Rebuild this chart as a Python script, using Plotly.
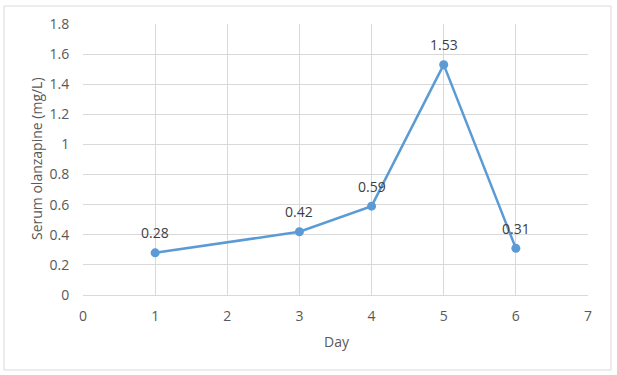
import plotly.graph_objects as go

days = [1, 3, 4, 5, 6]
serum = [0.28, 0.42, 0.59, 1.53, 0.31]
labels = ["0.28", "0.42", "0.59", "1.53", "0.31"]
x_ticks = [0, 1, 2, 3, 4, 5, 6, 7]
y_ticks = [0, 0.2, 0.4, 0.6, 0.8, 1, 1.2, 1.4, 1.6, 1.8]
y_tick_text = ["0", "0.2", "0.4", "0.6", "0.8", "1", "1.2", "1.4", "1.6", "1.8"]
x_title = "Day"
y_title = "Serum olanzapine (mg/L)"

FONT = "Open Sans, Liberation Sans, sans-serif"

fig = go.Figure()
fig.add_trace(go.Scatter(
    x=days, y=serum, mode="lines+markers",
    line=dict(color="#5B9BD5", width=2.5),
    marker=dict(color="#5B9BD5", size=9),
    cliponaxis=False, showlegend=False, hoverinfo="skip",
))

OFF = 0  # body margin removed via post_script
# target plot area in window pixels
PX0, PX1, PY0, PY1 = 83, 588, 24, 295
W, H = 617 - OFF, 375 - OFF
L, T = PX0 - OFF, PY0 - OFF
pw, ph = PX1 - PX0, PY1 - PY0
R, B = W - L - pw, H - T - ph


def fx(px):
    return (px - PX0) / pw


def fy(py):
    return (PY1 - py) / ph


annotations = [
    dict(x=d, y=v, text=t, xref="x", yref="y", showarrow=False,
         yshift=20, yanchor="middle", xanchor="center",
         font=dict(family=FONT, size=14, color="#404040"))
    for d, v, t in zip(days, serum, labels)
]
annotations.append(dict(x=fx(337), y=fy(341), xref="paper", yref="paper",
                        text=x_title, showarrow=False, xanchor="center", yanchor="middle",
                        font=dict(family=FONT, size=14, color="#595959")))
annotations.append(dict(x=fx(36), y=fy(159), xref="paper", yref="paper",
                        text=y_title, showarrow=False, textangle=-90,
                        xanchor="center", yanchor="middle",
                        font=dict(family=FONT, size=14, color="#595959")))

fig.update_layout(
    width=W, height=H,
    margin=dict(l=L, r=R, t=T, b=B, autoexpand=False),
    paper_bgcolor="white", plot_bgcolor="white",
    font=dict(family=FONT, size=14, color="#595959"),
    xaxis=dict(range=[0, 7], tickvals=x_ticks, ticktext=[str(v) for v in x_ticks],
               showgrid=True, gridcolor="#d9d9d9", gridwidth=1, zeroline=False,
               showline=True, linecolor="#d9d9d9", ticks="outside", ticklen=0,
               ticklabelstandoff=8, automargin=False, fixedrange=True,
               tickfont=dict(family=FONT, size=14, color="#595959")),
    yaxis=dict(range=[0, 1.8], tickvals=y_ticks, ticktext=y_tick_text,
               showgrid=True, gridcolor="#d9d9d9", gridwidth=1, zeroline=False,
               showline=False, ticks="outside", ticklen=0,
               ticklabelstandoff=10, automargin=False, fixedrange=True,
               tickfont=dict(family=FONT, size=14, color="#595959")),
    annotations=annotations,
    shapes=[dict(type="rect", xref="paper", yref="paper",
                 x0=fx(4), x1=fx(611), y0=fy(370), y1=fy(6),
                 line=dict(color="#d9d9d9", width=1), fillcolor="rgba(0,0,0,0)", layer="below")],
)

fig.write_html("out.html", config={"displayModeBar": False},
               post_script="document.body.style.margin='0';")
